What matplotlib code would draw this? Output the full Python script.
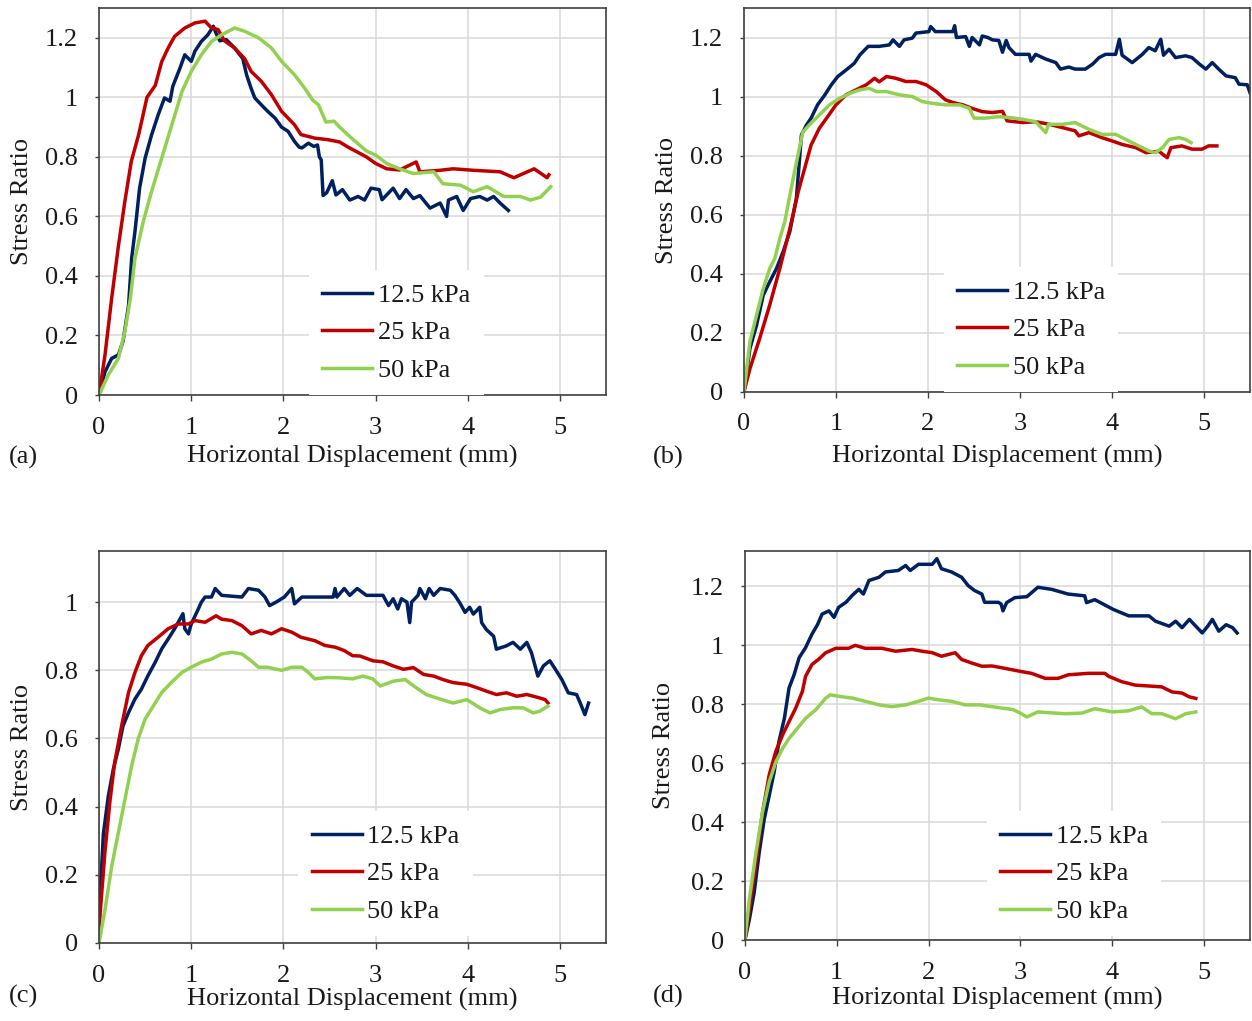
import matplotlib
matplotlib.use("Agg")
import matplotlib.pyplot as plt

plt.rcParams['font.family'] = ['Liberation Serif', 'DejaVu Serif']
plt.rcParams['font.size'] = 19

pressures = ["12.5 kPa", "25 kPa", "50 kPa"]
colors = ["#002060", "#C00000", "#92D050"]
panelLetters = ["(a)", "(b)", "(c)", "(d)"]
xTicks = [0, 1, 2, 3, 4, 5]
yTicksTall = [0, 0.2, 0.4, 0.6, 0.8, 1.0, 1.2]
yLabelsTall = ["0", "0.2", "0.4", "0.6", "0.8", "1", "1.2"]
yTicksShort = [0, 0.2, 0.4, 0.6, 0.8, 1.0]
yLabelsShort = ["0", "0.2", "0.4", "0.6", "0.8", "1"]

# (horizontal displacement mm, stress ratio)
a125 = [(0, 0), (0.065, 0.078), (0.137, 0.123), (0.21, 0.135), (0.26, 0.18), (0.32, 0.3), (0.354, 0.46),
        (0.39, 0.55), (0.44, 0.695), (0.5, 0.796), (0.57, 0.874), (0.64, 0.94), (0.71, 0.998), (0.77, 0.987),
        (0.8, 1.037), (0.88, 1.1), (0.93, 1.143), (1.0, 1.121), (1.04, 1.155), (1.11, 1.188), (1.18, 1.21),
        (1.24, 1.239), (1.27, 1.215), (1.31, 1.19), (1.38, 1.194), (1.47, 1.166), (1.56, 1.13), (1.6, 1.076),
        (1.65, 1.03), (1.69, 0.998), (1.76, 0.975), (1.83, 0.953), (1.91, 0.93), (1.98, 0.9), (2.05, 0.886),
        (2.12, 0.852), (2.17, 0.833), (2.2, 0.83), (2.27, 0.846), (2.33, 0.835), (2.37, 0.84), (2.39, 0.8),
        (2.41, 0.79), (2.43, 0.67), (2.47, 0.68), (2.53, 0.72), (2.57, 0.672), (2.64, 0.69), (2.72, 0.655),
        (2.81, 0.667), (2.88, 0.655), (2.95, 0.695), (3.04, 0.69), (3.07, 0.656), (3.19, 0.695), (3.26, 0.66),
        (3.33, 0.69), (3.41, 0.66), (3.48, 0.67), (3.59, 0.628), (3.7, 0.645), (3.77, 0.6), (3.79, 0.655),
        (3.88, 0.667), (3.95, 0.62), (4.03, 0.66), (4.13, 0.667), (4.21, 0.655), (4.28, 0.667), (4.35, 0.645),
        (4.44, 0.62)]
a25 = [(0, 0), (0.065, 0.135), (0.137, 0.325), (0.21, 0.5), (0.28, 0.65), (0.35, 0.785), (0.43, 0.875),
       (0.52, 1.0), (0.61, 1.04), (0.68, 1.12), (0.75, 1.166), (0.82, 1.205), (0.93, 1.233), (1.04, 1.25),
       (1.15, 1.256), (1.22, 1.233), (1.29, 1.228), (1.36, 1.19), (1.47, 1.166), (1.58, 1.13), (1.65, 1.087),
       (1.76, 1.054), (1.87, 1.009), (1.98, 0.953), (2.12, 0.908), (2.19, 0.875), (2.34, 0.863), (2.48, 0.858),
       (2.61, 0.85), (2.7, 0.833), (2.9, 0.8), (3.0, 0.778), (3.12, 0.76), (3.26, 0.756), (3.44, 0.783),
       (3.48, 0.75), (3.7, 0.755), (3.84, 0.76), (4.06, 0.755), (4.35, 0.75), (4.5, 0.73), (4.72, 0.76),
       (4.86, 0.73), (4.88, 0.74)]
a50 = [(0, 0), (0.1, 0.067), (0.21, 0.123), (0.28, 0.213), (0.34, 0.325), (0.39, 0.46), (0.48, 0.583),
       (0.57, 0.684), (0.68, 0.796), (0.79, 0.908), (0.9, 1.02), (1.0, 1.087), (1.11, 1.143), (1.22, 1.188),
       (1.33, 1.21), (1.47, 1.233), (1.58, 1.222), (1.73, 1.2), (1.87, 1.166), (1.98, 1.121), (2.12, 1.076),
       (2.23, 1.031), (2.32, 0.99), (2.38, 0.975), (2.46, 0.917), (2.55, 0.92), (2.61, 0.9), (2.75, 0.86),
       (2.9, 0.82), (3.0, 0.806), (3.12, 0.778), (3.26, 0.76), (3.41, 0.744), (3.63, 0.75), (3.73, 0.71),
       (3.92, 0.705), (4.06, 0.683), (4.21, 0.7), (4.39, 0.667), (4.57, 0.667), (4.68, 0.655), (4.79, 0.665),
       (4.9, 0.7)]

b125 = [(0, 0), (0.065, 0.147), (0.137, 0.226), (0.21, 0.328), (0.28, 0.373), (0.354, 0.418), (0.426, 0.475),
        (0.498, 0.542), (0.57, 0.655), (0.625, 0.87), (0.68, 0.904), (0.73, 0.927), (0.8, 0.972), (0.88, 1.006),
        (0.95, 1.04), (1.02, 1.068), (1.09, 1.085), (1.15, 1.1), (1.2, 1.113), (1.26, 1.141), (1.35, 1.17),
        (1.47, 1.17), (1.58, 1.175), (1.62, 1.192), (1.69, 1.17), (1.74, 1.192), (1.83, 1.198), (1.87, 1.215),
        (2.01, 1.22), (2.03, 1.237), (2.08, 1.22), (2.27, 1.22), (2.29, 1.24), (2.31, 1.2), (2.41, 1.203),
        (2.45, 1.17), (2.48, 1.2), (2.56, 1.175), (2.59, 1.205), (2.65, 1.2), (2.7, 1.192), (2.77, 1.19),
        (2.81, 1.15), (2.85, 1.19), (2.88, 1.166), (2.95, 1.143), (3.1, 1.143), (3.12, 1.12), (3.17, 1.143),
        (3.28, 1.127), (3.39, 1.115), (3.44, 1.093), (3.53, 1.1), (3.6, 1.093), (3.71, 1.093), (3.79, 1.11),
        (3.86, 1.132), (3.93, 1.143), (4.04, 1.143), (4.08, 1.194), (4.11, 1.14), (4.22, 1.115), (4.33, 1.143),
        (4.4, 1.166), (4.47, 1.155), (4.53, 1.194), (4.56, 1.14), (4.62, 1.16), (4.69, 1.132), (4.8, 1.138),
        (4.87, 1.132), (4.95, 1.11), (5.02, 1.093), (5.09, 1.115), (5.16, 1.093), (5.24, 1.07), (5.34, 1.064),
        (5.38, 1.042), (5.47, 1.04), (5.5, 1.013)]
b25 = [(0, 0), (0.065, 0.079), (0.17, 0.18), (0.28, 0.294), (0.39, 0.418), (0.5, 0.554), (0.59, 0.678),
       (0.66, 0.757), (0.73, 0.836), (0.82, 0.893), (0.91, 0.932), (1.0, 0.972), (1.11, 1.006), (1.22, 1.023),
       (1.33, 1.04), (1.42, 1.062), (1.47, 1.05), (1.55, 1.068), (1.65, 1.062), (1.76, 1.051), (1.87, 1.051),
       (1.98, 1.04), (2.09, 1.017), (2.19, 0.989), (2.27, 0.98), (2.38, 0.972), (2.48, 0.96), (2.59, 0.949),
       (2.7, 0.946), (2.81, 0.95), (2.86, 0.918), (3.03, 0.912), (3.17, 0.915), (3.32, 0.906), (3.46, 0.895),
       (3.6, 0.884), (3.64, 0.867), (3.75, 0.878), (3.89, 0.861), (4.0, 0.85), (4.11, 0.838), (4.26, 0.827),
       (4.37, 0.81), (4.51, 0.815), (4.6, 0.793), (4.64, 0.827), (4.76, 0.833), (4.87, 0.822), (4.98, 0.822),
       (5.05, 0.833), (5.14, 0.833)]
b50 = [(0, 0), (0.065, 0.17), (0.137, 0.26), (0.21, 0.35), (0.28, 0.418), (0.336, 0.452), (0.39, 0.52),
       (0.444, 0.576), (0.5, 0.667), (0.55, 0.746), (0.61, 0.836), (0.64, 0.88), (0.71, 0.904), (0.82, 0.938),
       (0.93, 0.972), (1.04, 0.994), (1.15, 1.011), (1.26, 1.023), (1.36, 1.028), (1.44, 1.017), (1.55, 1.017),
       (1.69, 1.006), (1.83, 1.0), (1.94, 0.983), (2.05, 0.977), (2.19, 0.972), (2.34, 0.972), (2.45, 0.96),
       (2.5, 0.927), (2.62, 0.927), (2.77, 0.932), (2.92, 0.928), (3.03, 0.923), (3.17, 0.915), (3.28, 0.878),
       (3.31, 0.906), (3.46, 0.906), (3.6, 0.912), (3.75, 0.889), (3.89, 0.872), (4.04, 0.872), (4.18, 0.85),
       (4.33, 0.827), (4.4, 0.816), (4.47, 0.81), (4.55, 0.827), (4.62, 0.855), (4.73, 0.861), (4.8, 0.855),
       (4.86, 0.844)]

c125 = [(0, 0.05), (0.01, 0.127), (0.047, 0.32), (0.1, 0.43), (0.155, 0.51), (0.21, 0.57), (0.26, 0.637),
        (0.32, 0.676), (0.39, 0.716), (0.46, 0.745), (0.53, 0.784), (0.61, 0.824), (0.68, 0.863), (0.75, 0.892),
        (0.82, 0.922), (0.88, 0.951), (0.91, 0.966), (0.93, 0.922), (0.97, 0.907), (1.0, 0.936), (1.06, 0.97),
        (1.11, 1.0), (1.15, 1.015), (1.22, 1.015), (1.26, 1.04), (1.33, 1.02), (1.55, 1.015), (1.62, 1.04),
        (1.73, 1.035), (1.8, 1.015), (1.85, 0.99), (1.92, 1.0), (2.01, 1.015), (2.09, 1.04), (2.12, 0.995),
        (2.2, 1.015), (2.54, 1.015), (2.56, 1.04), (2.58, 1.015), (2.66, 1.04), (2.72, 1.02), (2.8, 1.04),
        (2.9, 1.02), (3.08, 1.02), (3.14, 0.99), (3.19, 1.01), (3.24, 0.98), (3.28, 1.01), (3.34, 1.0),
        (3.37, 0.94), (3.39, 1.0), (3.46, 1.02), (3.48, 1.04), (3.54, 1.01), (3.58, 1.04), (3.63, 1.02),
        (3.7, 1.04), (3.81, 1.035), (3.86, 1.02), (3.92, 0.995), (3.97, 0.97), (4.02, 0.985), (4.06, 0.965),
        (4.13, 0.985), (4.15, 0.94), (4.2, 0.92), (4.28, 0.9), (4.31, 0.862), (4.42, 0.872), (4.49, 0.882),
        (4.57, 0.862), (4.64, 0.882), (4.69, 0.852), (4.76, 0.783), (4.82, 0.813), (4.89, 0.828), (4.95, 0.803),
        (5.02, 0.773), (5.09, 0.734), (5.18, 0.729), (5.22, 0.704), (5.27, 0.67), (5.31, 0.704)]
c25 = [(0, 0.03), (0.01, 0.08), (0.065, 0.27), (0.12, 0.42), (0.17, 0.53), (0.245, 0.637), (0.32, 0.735),
       (0.39, 0.794), (0.46, 0.843), (0.53, 0.873), (0.64, 0.897), (0.75, 0.922), (0.86, 0.936), (0.97, 0.936),
       (1.04, 0.946), (1.15, 0.941), (1.27, 0.96), (1.33, 0.95), (1.44, 0.946), (1.55, 0.931), (1.65, 0.907),
       (1.76, 0.917), (1.87, 0.907), (1.98, 0.922), (2.09, 0.912), (2.19, 0.897), (2.34, 0.887), (2.45, 0.873),
       (2.56, 0.868), (2.66, 0.858), (2.75, 0.843), (2.83, 0.842), (2.97, 0.828), (3.08, 0.825), (3.19, 0.813),
       (3.3, 0.803), (3.41, 0.808), (3.52, 0.788), (3.63, 0.783), (3.73, 0.773), (3.84, 0.764), (3.99, 0.759),
       (4.1, 0.749), (4.2, 0.739), (4.31, 0.729), (4.42, 0.734), (4.53, 0.724), (4.64, 0.729), (4.71, 0.724),
       (4.78, 0.719), (4.84, 0.714), (4.87, 0.704)]
c50 = [(0, 0), (0.065, 0.098), (0.137, 0.225), (0.21, 0.324), (0.28, 0.42), (0.354, 0.52), (0.426, 0.6),
       (0.5, 0.657), (0.59, 0.696), (0.68, 0.735), (0.787, 0.765), (0.9, 0.794), (1.0, 0.809), (1.11, 0.824),
       (1.22, 0.833), (1.33, 0.848), (1.44, 0.853), (1.55, 0.848), (1.65, 0.828), (1.73, 0.809), (1.83, 0.809),
       (1.98, 0.8), (2.09, 0.809), (2.2, 0.809), (2.27, 0.794), (2.34, 0.775), (2.48, 0.779), (2.61, 0.778),
       (2.75, 0.775), (2.86, 0.783), (2.97, 0.775), (3.05, 0.754), (3.19, 0.768), (3.32, 0.773), (3.44, 0.749),
       (3.55, 0.729), (3.66, 0.719), (3.84, 0.704), (3.99, 0.714), (4.13, 0.69), (4.24, 0.675), (4.35, 0.685),
       (4.49, 0.69), (4.6, 0.69), (4.71, 0.675), (4.78, 0.68), (4.87, 0.695)]

d125 = [(0, 0), (0.047, 0.068), (0.1, 0.16), (0.155, 0.296), (0.21, 0.41), (0.264, 0.49), (0.318, 0.57),
        (0.37, 0.673), (0.43, 0.753), (0.48, 0.855), (0.535, 0.9), (0.59, 0.958), (0.66, 0.992), (0.73, 1.038),
        (0.79, 1.07), (0.84, 1.106), (0.915, 1.117), (0.97, 1.095), (1.02, 1.129), (1.1, 1.146), (1.17, 1.17),
        (1.24, 1.19), (1.29, 1.174), (1.35, 1.22), (1.46, 1.231), (1.53, 1.249), (1.67, 1.254), (1.75, 1.271),
        (1.8, 1.254), (1.89, 1.275), (2.04, 1.275), (2.09, 1.294), (2.14, 1.26), (2.25, 1.249), (2.36, 1.231),
        (2.43, 1.203), (2.5, 1.186), (2.58, 1.174), (2.61, 1.146), (2.76, 1.146), (2.79, 1.14), (2.81, 1.117),
        (2.85, 1.145), (2.94, 1.162), (3.07, 1.165), (3.19, 1.197), (3.34, 1.19), (3.52, 1.174), (3.7, 1.168),
        (3.72, 1.145), (3.81, 1.155), (4.01, 1.122), (4.18, 1.1), (4.4, 1.1), (4.47, 1.082), (4.62, 1.065),
        (4.69, 1.082), (4.76, 1.06), (4.84, 1.088), (4.91, 1.065), (4.98, 1.042), (5.04, 1.065), (5.09, 1.088),
        (5.16, 1.048), (5.24, 1.07), (5.31, 1.06), (5.36, 1.042)]
d25 = [(0, 0), (0.047, 0.1), (0.12, 0.26), (0.19, 0.43), (0.264, 0.56), (0.336, 0.64), (0.41, 0.696),
       (0.48, 0.741), (0.553, 0.787), (0.626, 0.844), (0.66, 0.895), (0.73, 0.935), (0.8, 0.952), (0.88, 0.975),
       (0.99, 0.99), (1.13, 0.99), (1.2, 1.0), (1.31, 0.99), (1.49, 0.99), (1.64, 0.98), (1.82, 0.986),
       (1.93, 0.98), (2.04, 0.975), (2.14, 0.963), (2.29, 0.975), (2.36, 0.952), (2.47, 0.94), (2.58, 0.929),
       (2.69, 0.93), (2.83, 0.922), (3.01, 0.911), (3.12, 0.905), (3.27, 0.888), (3.41, 0.888), (3.52, 0.9),
       (3.74, 0.905), (3.92, 0.905), (3.96, 0.895), (4.1, 0.877), (4.25, 0.865), (4.4, 0.862), (4.54, 0.859),
       (4.65, 0.842), (4.76, 0.838), (4.84, 0.825), (4.91, 0.82)]
d50 = [(0, 0), (0.047, 0.137), (0.12, 0.296), (0.19, 0.433), (0.264, 0.536), (0.336, 0.604), (0.41, 0.65),
       (0.48, 0.684), (0.57, 0.718), (0.66, 0.752), (0.77, 0.781), (0.88, 0.821), (0.93, 0.832), (1.02, 0.827),
       (1.17, 0.821), (1.31, 0.81), (1.46, 0.798), (1.6, 0.792), (1.75, 0.798), (1.89, 0.81), (2.0, 0.821),
       (2.11, 0.815), (2.25, 0.81), (2.4, 0.798), (2.55, 0.798), (2.69, 0.792), (2.8, 0.787), (2.92, 0.782),
       (3.01, 0.768), (3.07, 0.757), (3.19, 0.774), (3.38, 0.77), (3.49, 0.768), (3.67, 0.77), (3.81, 0.785),
       (4.0, 0.774), (4.18, 0.778), (4.32, 0.791), (4.43, 0.768), (4.54, 0.768), (4.69, 0.751), (4.8, 0.768),
       (4.91, 0.774)]

panels = [
    # rect, ylim, short y axis, legend anchor, xlabel y, ylabel x
    ([0.0791, 0.6131, 0.4050, 0.3790], 1.30, False, (0.414, 0.0), -0.160, -0.152, [a125, a25, a50]),
    ([0.5942, 0.6161, 0.4042, 0.3761], 1.30, False, (0.395, 0.0), -0.169, -0.152, [b125, b25, b50]),
    ([0.0791, 0.0764, 0.4050, 0.3839], 1.15, True, (0.393, 0.018), -0.143, -0.152, [c125, c25, c50]),
    ([0.5950, 0.0793, 0.4034, 0.3810], 1.32, False, (0.479, 0.010), -0.150, -0.160, [d125, d25, d50]),
]
letterPos = [(23, 457), (668, 457), (23, 996), (668, 996)]

fig = plt.figure(figsize=(12.52, 10.21), dpi=100)
for i, (rect, ymax, short, legAnchor, xlabY, ylabX, series) in enumerate(panels):
    ax = fig.add_axes(rect)
    for data, name, col in zip(series, pressures, colors):
        xs = [p[0] for p in data]
        ys = [p[1] for p in data]
        ax.plot(xs, ys, color=col, lw=2.5, label=name)
    ax.set_xlim(0, 5.5)
    ax.set_ylim(0, ymax)
    ax.set_xticks(xTicks)
    ax.set_xticklabels([str(t) for t in xTicks])
    if short:
        ax.set_yticks(yTicksShort)
        ax.set_yticklabels(yLabelsShort)
    else:
        ax.set_yticks(yTicksTall)
        ax.set_yticklabels(yLabelsTall)
    ax.grid(True, color='#d9d9d9', lw=1.1)
    ax.set_axisbelow(True)
    for sp in ax.spines.values():
        sp.set_color('#404040')
        sp.set_linewidth(1.2)
    ax.tick_params(axis='x', direction='out', length=4.5, width=1, color='#404040', pad=11, labelcolor='#1a1a1a')
    ax.tick_params(axis='y', direction='out', length=3, width=1, color='#404040', pad=12, labelcolor='#1a1a1a')
    ax.set_xlabel("Horizontal Displacement (mm)", color='#1a1a1a')
    ax.xaxis.label.set_va('center')
    ax.xaxis.set_label_coords(0.5, xlabY)
    ax.set_ylabel("Stress Ratio", color='#1a1a1a')
    ax.yaxis.label.set_va('center')
    ax.yaxis.set_label_coords(ylabX, 0.5)
    leg = ax.legend(loc='lower left', bbox_to_anchor=legAnchor, borderaxespad=0, frameon=True,
                    fancybox=False, edgecolor='none', facecolor='white', framealpha=1,
                    handlelength=1.9, handletextpad=0.22, labelspacing=0.53, borderpad=0.5)
    for t in leg.get_texts():
        t.set_color('#1a1a1a')
    fig.text(letterPos[i][0] / 1252, 1 - letterPos[i][1] / 1021, panelLetters[i],
             ha='center', va='center', color='#1a1a1a')

fig.savefig('out.png', dpi=100)
